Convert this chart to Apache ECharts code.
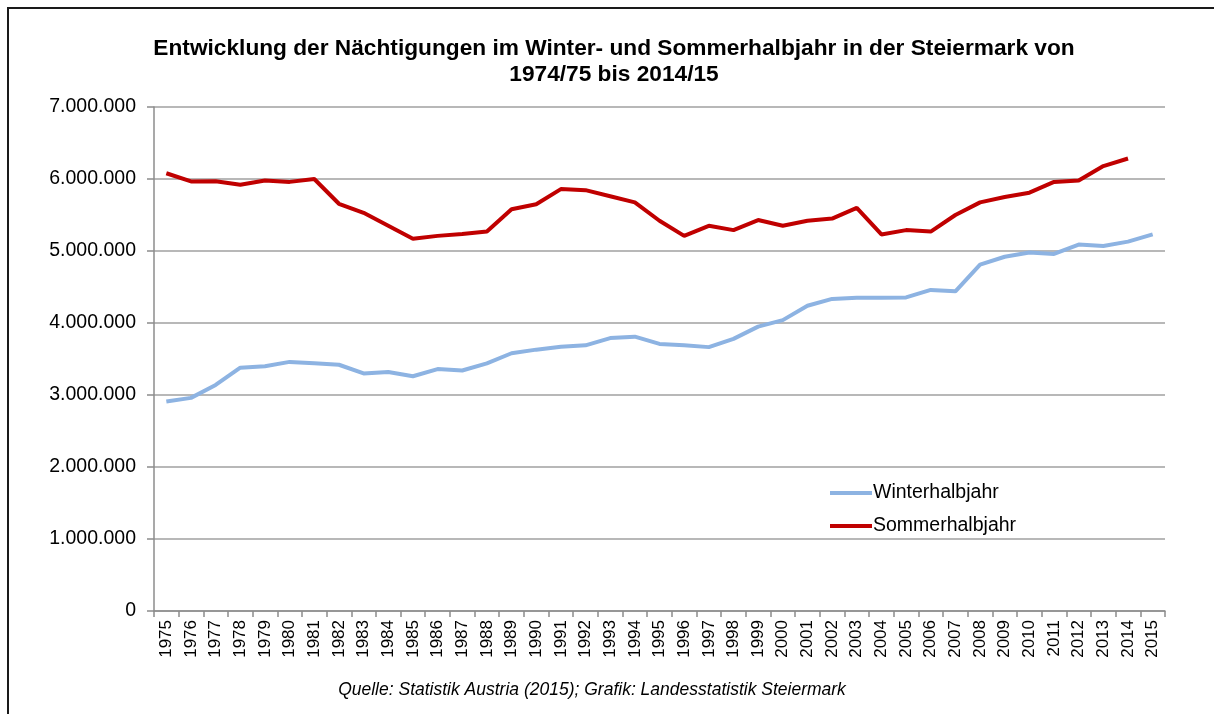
<!DOCTYPE html>
<html>
<head>
<meta charset="utf-8">
<script src="https://cdn.jsdelivr.net/npm/echarts@6/dist/echarts.min.js"></script>
<style>
  html, body { margin: 0; padding: 0; background: #fff; }
  #chart { width: 1214px; height: 714px; }
</style>
</head>
<body>
<div id="chart"></div>
<script>
var years = ['1975','1976','1977','1978','1979','1980','1981','1982','1983','1984',
             '1985','1986','1987','1988','1989','1990','1991','1992','1993','1994',
             '1995','1996','1997','1998','1999','2000','2001','2002','2003','2004',
             '2005','2006','2007','2008','2009','2010','2011','2012','2013','2014','2015'];

var winter = [2910000, 2960000, 3140000, 3380000, 3400000, 3460000, 3440000, 3420000, 3300000, 3320000,
              3260000, 3360000, 3340000, 3440000, 3580000, 3630000, 3670000, 3690000, 3790000, 3810000,
              3710000, 3690000, 3665000, 3780000, 3950000, 4040000, 4240000, 4335000, 4350000, 4350000,
              4355000, 4460000, 4440000, 4810000, 4920000, 4980000, 4960000, 5090000, 5070000, 5130000, 5230000];

var sommer = [6080000, 5966000, 5970000, 5920000, 5980000, 5960000, 6000000, 5656000, 5530000, 5350000,
              5170000, 5210000, 5235000, 5270000, 5580000, 5650000, 5860000, 5845000, 5760000, 5675000,
              5420000, 5210000, 5350000, 5290000, 5430000, 5350000, 5420000, 5450000, 5600000, 5230000,
              5290000, 5270000, 5500000, 5675000, 5750000, 5810000, 5960000, 5980000, 6180000, 6285000, null];

var yTicks = { min: 0, max: 7000000, interval: 1000000 };

function fmtDe(v) {
  return String(v).replace(/\B(?=(\d{3})+(?!\d))/g, '.');
}

var chart = echarts.init(document.getElementById('chart'));

chart.setOption({
  backgroundColor: '#fff',
  animation: false,
  textStyle: { fontFamily: 'Liberation Sans, Arial, sans-serif' },
  title: {
    text: 'Entwicklung der Nächtigungen im Winter- und Sommerhalbjahr in der Steiermark von\n1974/75 bis 2014/15',
    left: 609,
    textAlign: 'center',
    top: 31,
    textStyle: { fontSize: 22.7, fontWeight: 'bold', color: '#000', lineHeight: 26 }
  },
  legend: {
    orient: 'vertical',
    left: 825,
    top: 478,
    icon: 'rect',
    itemWidth: 42,
    itemHeight: 4,
    itemGap: 13,
    textStyle: { fontSize: 19.5, color: '#000', padding: [0, 0, 0, -4] },
    data: ['Winterhalbjahr', 'Sommerhalbjahr']
  },
  grid: { left: 154, right: 49, top: 107, bottom: 103, containLabel: false },
  xAxis: {
    type: 'category',
    data: years,
    boundaryGap: true,
    axisLine: { lineStyle: { color: '#8c8c8c', width: 1.5 } },
    axisTick: { show: true, length: 6, lineStyle: { color: '#8c8c8c', width: 1.5 } },
    axisLabel: { rotate: 90, interval: 0, fontSize: 17, color: '#000', margin: 9 }
  },
  yAxis: {
    type: 'value',
    min: yTicks.min,
    max: yTicks.max,
    interval: yTicks.interval,
    axisLine: { show: true, lineStyle: { color: '#8c8c8c', width: 1.5 } },
    axisTick: { show: true, length: 7, lineStyle: { color: '#8c8c8c', width: 1.5 } },
    splitLine: { lineStyle: { color: '#a0a0a0', width: 1.5 } },
    axisLabel: { fontSize: 19.5, color: '#000', margin: 18, formatter: fmtDe }
  },
  series: [
    {
      name: 'Winterhalbjahr',
      type: 'line',
      data: winter,
      symbol: 'none',
      lineStyle: { color: '#8db3e2', width: 4 },
      itemStyle: { color: '#8db3e2' }
    },
    {
      name: 'Sommerhalbjahr',
      type: 'line',
      data: sommer,
      symbol: 'none',
      lineStyle: { color: '#c00000', width: 4 },
      itemStyle: { color: '#c00000' }
    }
  ],
  graphic: [
    {
      type: 'polyline',
      shape: { points: [[8, 714], [8, 8], [1214, 8]] },
      style: { fill: 'none', stroke: '#1a1a1a', lineWidth: 2 },
      silent: true
    },
    {
      type: 'text',
      x: 592,
      y: 690,
      style: {
        text: 'Quelle: Statistik Austria (2015); Grafik: Landesstatistik Steiermark',
        font: 'italic 17.5px Liberation Sans, Arial, sans-serif',
        fill: '#000',
        align: 'center',
        verticalAlign: 'middle'
      }
    }
  ]
});
</script>
</body>
</html>
